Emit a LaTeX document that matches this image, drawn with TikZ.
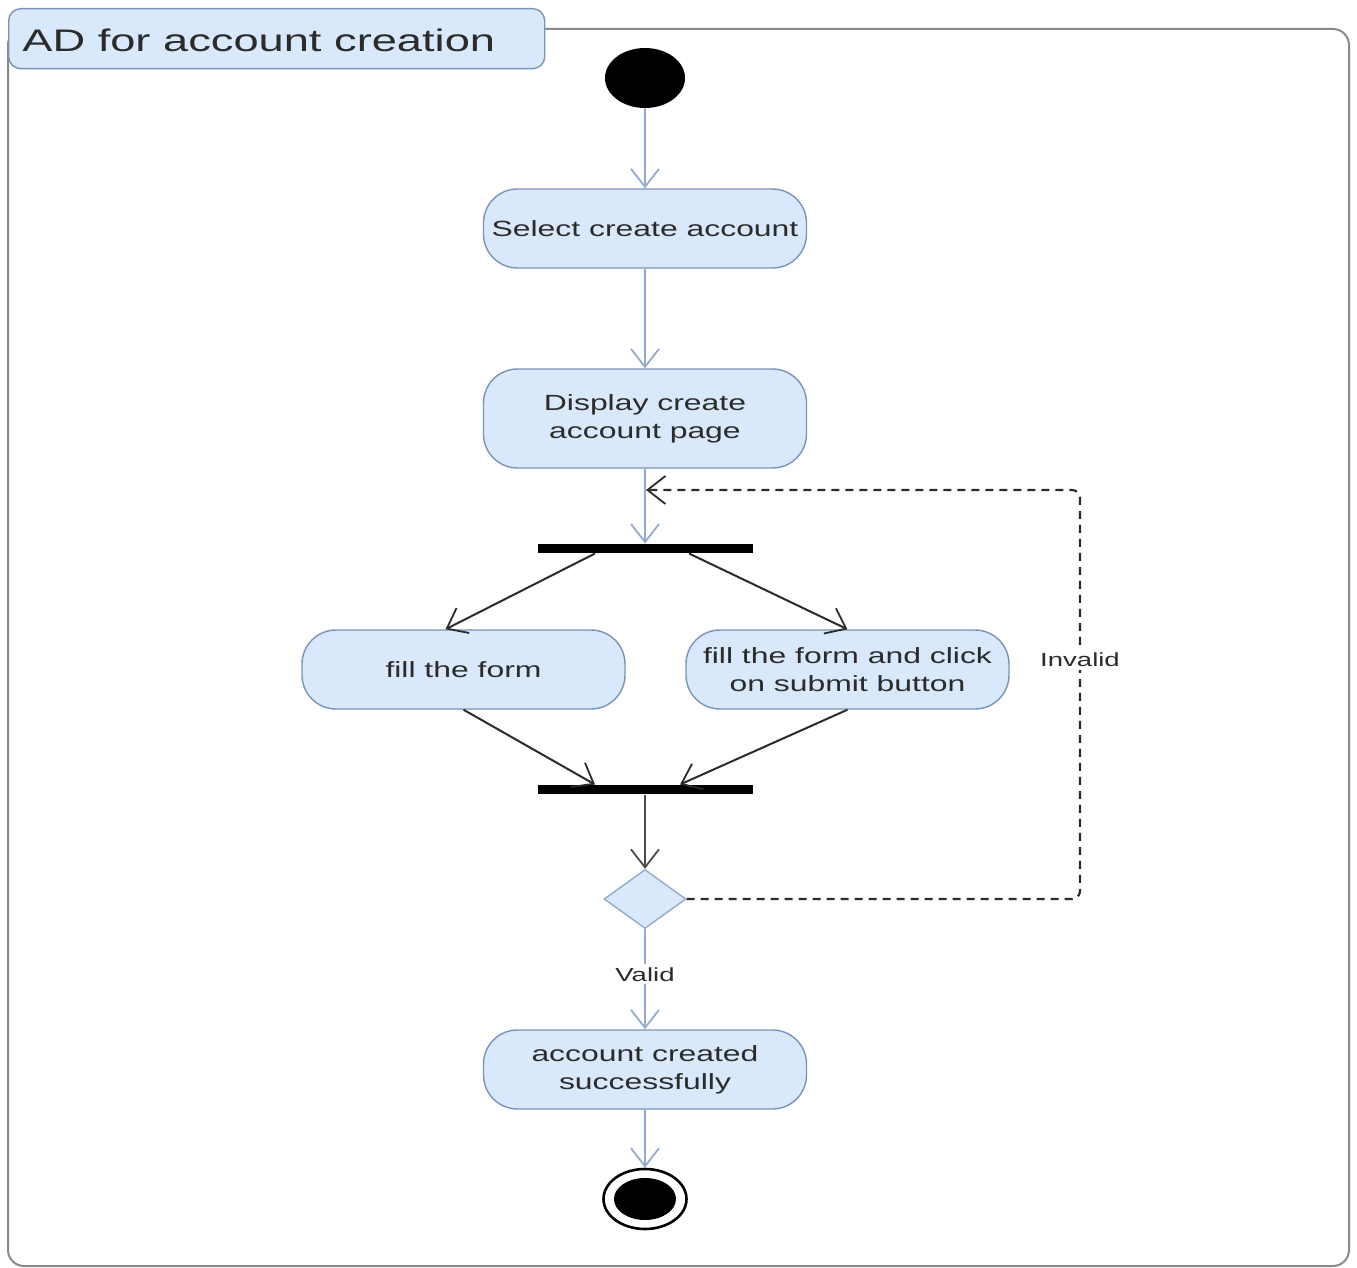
\documentclass[tikz,border=0pt]{standalone}
\usepackage{fontspec}
\setmainfont{Liberation Sans}[FakeStretch=1.45]
\usetikzlibrary{arrows.meta,shapes.geometric}

\definecolor{boxfill}{HTML}{DAE8FC}
\definecolor{boxline}{HTML}{7A93B8}
\definecolor{flowline}{HTML}{93AACB}
\definecolor{inkdark}{HTML}{2B2B2B}
\definecolor{framegray}{HTML}{8A8A8A}

\tikzset{
  action/.style={draw=boxline, fill=boxfill, line width=0.7pt, rounded corners=17pt,
    minimum width=161.5pt, minimum height=39.5pt, align=center, inner sep=2pt,
    text=inkdark, font=\fontsize{11}{14}\selectfont},
  bar/.style={fill=black, draw=none, minimum width=107.5pt, minimum height=4.6pt, inner sep=0pt},
  tip/.style={-{Straight Barb[length=9pt, width=14pt, line width=0.9pt]}},
  flow/.style={tip, draw=flowline, line width=1.3pt},
  darkflow/.style={tip, draw=inkdark, line width=1pt},
  loopflow/.style={tip, draw=inkdark, line width=1.1pt, dash pattern=on 4pt off 3pt, rounded corners=4pt},
  guard/.style={fill=white, inner sep=1.5pt, text=inkdark, font=\fontsize{9.5}{11}\selectfont},
}

\begin{document}
\begin{tikzpicture}[x=0.5pt, y=-0.5pt]
\useasboundingbox (0,0) rectangle (1357,1268);

% frame and title tab
\draw[framegray, line width=1pt, rounded corners=8pt] (8,29) rectangle (1349,1266);
\node[draw=boxline, fill=boxfill, line width=0.7pt, rounded corners=6pt,
      minimum width=268pt, minimum height=30pt, anchor=north west, inner sep=0pt] (tab) at (8,8) {};
\node[anchor=west, text=inkdark, font=\fontsize{15.6}{19}\selectfont, inner sep=0pt] (title) at (22,40) {AD for account creation};

% nodes
\node[ellipse, fill=black, minimum width=40pt, minimum height=30pt, inner sep=0pt] (start) at (645,78) {};
\node[action] (select) at (645,228.5) {Select create account};
\node[action, minimum height=49.5pt] (display) at (645,418.5) {Display create\\account page};
\node[bar] (fork) at (645,548.5) {};
\node[action] (form) at (463.5,669.5) {fill the form};
\node[action] (submit) at (847.5,669.5) {fill the form and click\\on submit button};
\node[bar] (join) at (645,789.5) {};
\node[diamond, fill=boxfill, draw=flowline, line width=0.7pt, minimum width=41pt, minimum height=29.5pt, inner sep=0pt] (dec) at (645,899) {};
\node[action] (done) at (645,1069.5) {account created\\successfully};
\node[ellipse, draw=black, line width=1.3pt, minimum width=41.5pt, minimum height=30pt, inner sep=0pt] (end) at (645,1199) {};
\node[ellipse, fill=black, minimum width=31pt, minimum height=21pt, inner sep=0pt] (endcore) at (645,1199) {};

% control flow
\draw[flow] (start) -- (select);
\draw[flow] (select) -- (display);
\draw[flow] (display) -- (fork.north);
\draw[darkflow] ([xshift=-25pt]fork.south) -- ([xshift=-9pt]form.north);
\draw[darkflow] ([xshift=22pt]fork.south) -- (submit.north);
\draw[darkflow] (form.south) -- ([xshift=-25pt]join.north);
\draw[darkflow] (submit.south) -- ([xshift=17.5pt]join.north);
\draw[darkflow, line width=1.3pt, draw=inkdark!85] (join.south) -- (dec.north);
\draw[flow] (dec.south) -- node[guard, pos=0.45] (valid) {Valid} (done.north);
\draw[flow] (done) -- (end.north);

% retry loop
\coordinate (loopA) at (1080,899);
\coordinate (loopB) at (1080,490);
\coordinate (loopEnd) at (646,490);
\draw[loopflow] (dec.east) -- (loopA) -- (loopB) -- (loopEnd);
\node[guard] (invalid) at (1080,660) {Invalid};
\end{tikzpicture}
\end{document}
